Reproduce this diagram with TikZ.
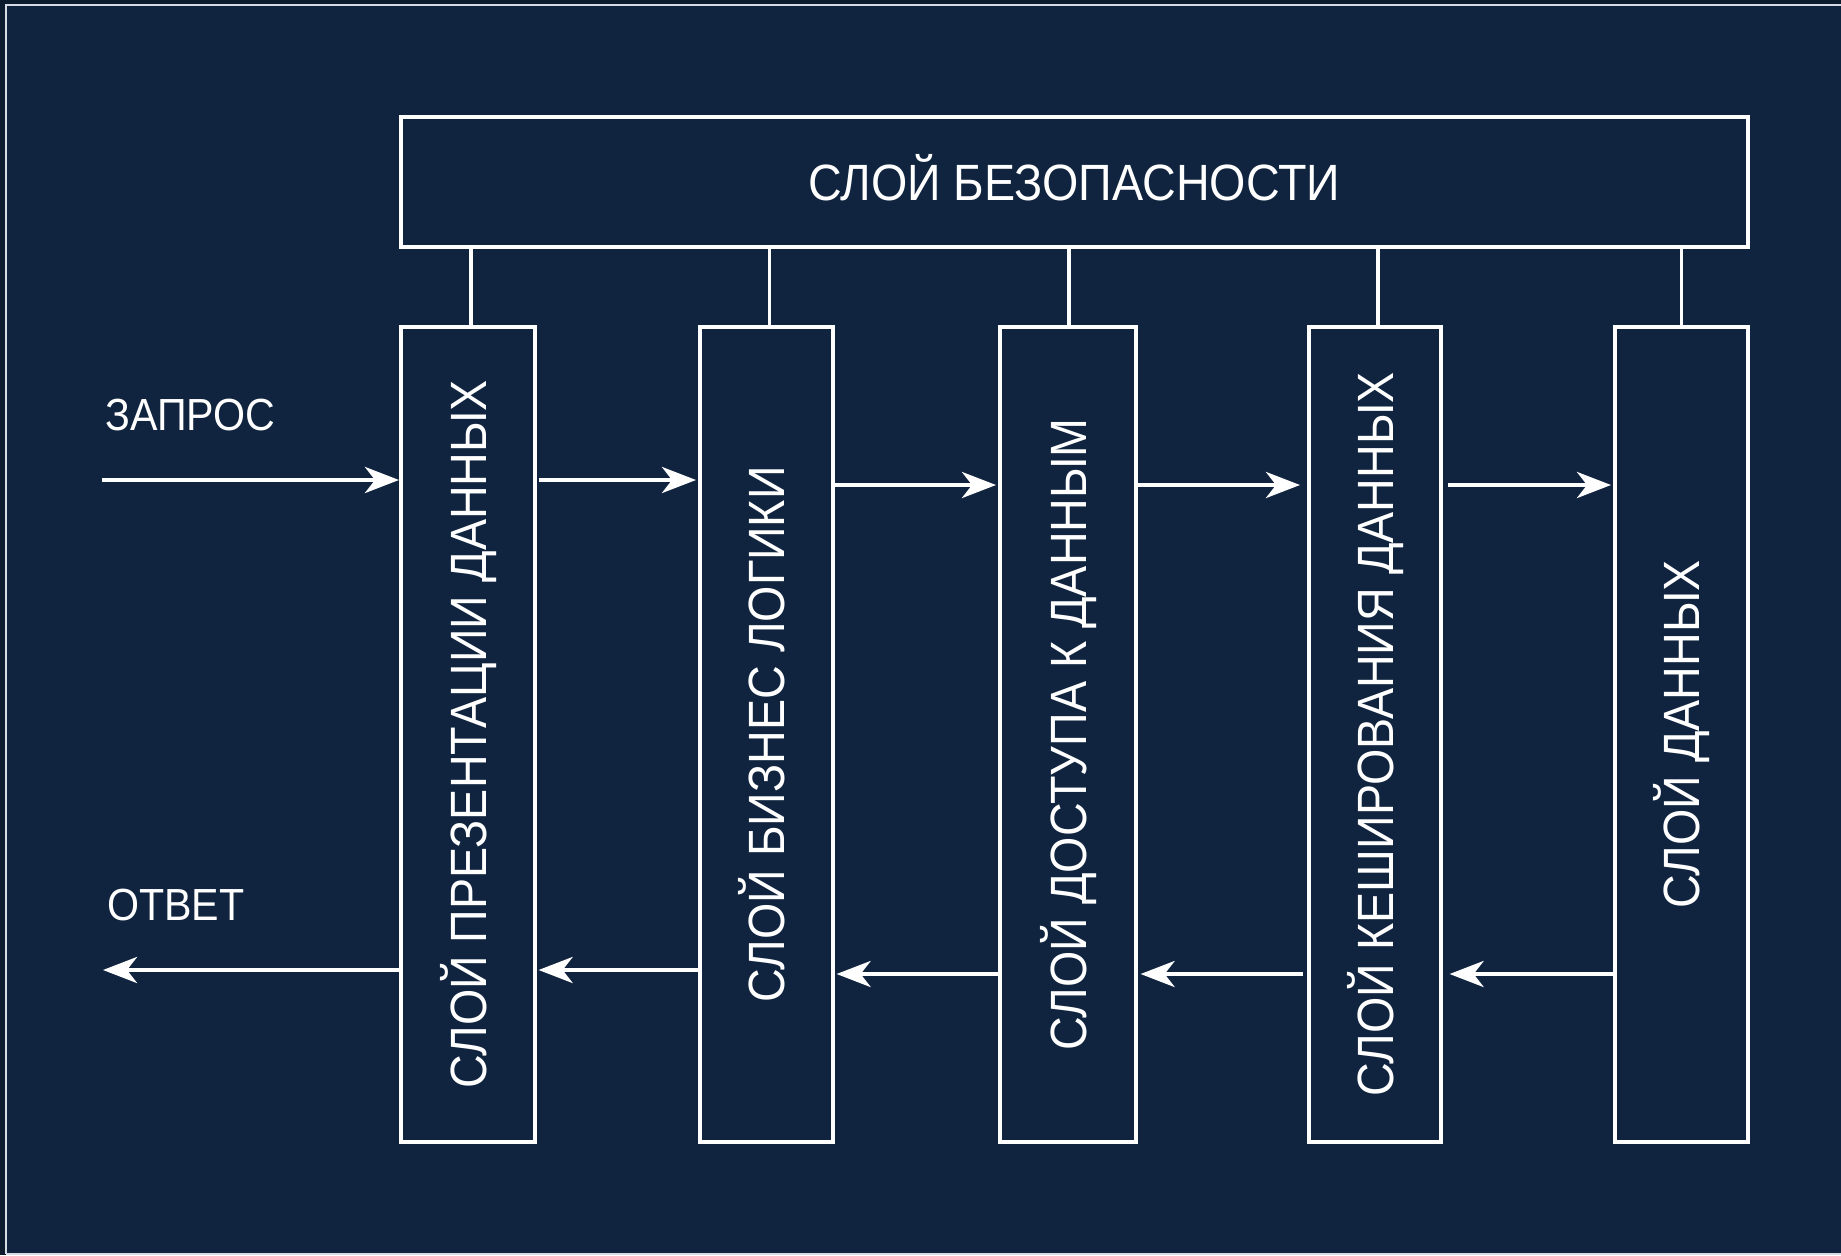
\documentclass[tikz,border=0pt]{standalone}
\usepackage{fontspec}
\setmainfont{Liberation Sans}[FakeStretch=0.915]
\usetikzlibrary{arrows.meta}
\definecolor{bgc}{RGB}{16,36,63}
\definecolor{outerc}{RGB}{13,27,46}
\definecolor{framec}{RGB}{214,220,228}
\begin{document}
\begin{tikzpicture}[x=1pt,y=-1pt,
  layerbox/.style={draw=white, line width=3.6pt, inner sep=0pt, anchor=north west},
  boxtext/.style={text=white, inner sep=0pt, text height=37pt, text depth=0pt,
    font=\fontsize{51}{60}\selectfont},
  sidetext/.style={text=white, inner sep=0pt, text height=32pt, text depth=0pt,
    anchor=south west, font=\fontsize{45}{54}\selectfont},
  flow/.style={white, line width=4.3pt, -{Stealth[length=34pt,width=26pt,inset=10pt]}},
  link/.style={white, line width=3.6pt}]
\useasboundingbox (0,0) rectangle (1841,1255);
\fill[outerc] (0,0) rectangle (1841,1255);
\fill[bgc] (6,5) rectangle (1850,1254);
\draw[framec, line width=2pt] (6,1254) -- (6,5) -- (1850,5);
\draw[framec, line width=2pt] (6,1254) -- (1850,1254);

% security layer
\node[layerbox, minimum width=1347pt, minimum height=130pt] (sec) at (399,115) {};
\node[boxtext] (sect) at (sec.center) {СЛОЙ БЕЗОПАСНОСТИ};

% vertical layers
\node[layerbox, minimum width=134pt, minimum height=815pt] (b1) at (399,325) {};
\node[layerbox, minimum width=133pt, minimum height=815pt] (b2) at (698,325) {};
\node[layerbox, minimum width=136pt, minimum height=815pt] (b3) at (998,325) {};
\node[layerbox, minimum width=132pt, minimum height=815pt] (b4) at (1307,325) {};
\node[layerbox, minimum width=133pt, minimum height=815pt] (b5) at (1613,325) {};

\node[boxtext, rotate=90] (t1) at (b1.center) {СЛОЙ ПРЕЗЕНТАЦИИ ДАННЫХ};
\node[boxtext, rotate=90] (t2) at (b2.center) {СЛОЙ БИЗНЕС ЛОГИКИ};
\node[boxtext, rotate=90] (t3) at (b3.center) {СЛОЙ ДОСТУПА К ДАННЫМ};
\node[boxtext, rotate=90] (t4) at (b4.center) {СЛОЙ КЕШИРОВАНИЯ ДАННЫХ};
\node[boxtext, rotate=90] (t5) at (b5.center) {СЛОЙ ДАННЫХ};

% links to security layer
\draw[link] ([xshift=3pt]b1.north) -- ([xshift=3pt]b1.north |- sec.south);
\draw[link] ([xshift=3pt]b2.north) -- ([xshift=3pt]b2.north |- sec.south);
\draw[link] ([xshift=1pt]b3.north) -- ([xshift=1pt]b3.north |- sec.south);
\draw[link] ([xshift=3pt]b4.north) -- ([xshift=3pt]b4.north |- sec.south);
\draw[link] ([xshift=0pt]b5.north) -- ([xshift=0pt]b5.north |- sec.south);

% labels
\node[sidetext] (req) at (105,431) {ЗАПРОС};
\node[sidetext] (resp) at (107,921) {ОТВЕТ};

% forward flow
\coordinate (rin) at (102,480);
\coordinate (fwa) at (0,480);
\coordinate (fwb) at (0,485);
\draw[flow] (rin) -- (rin -| b1.west);
\draw[flow] ([xshift=2pt]b1.east |- fwa) -- ([xshift=-2pt]b2.west |- fwa);
\draw[flow] (b2.east |- fwb) -- ([xshift=-2pt]b3.west |- fwb);
\draw[flow] (b3.east |- fwb) -- ([xshift=-7pt]b4.west |- fwb);
\draw[flow] ([xshift=5pt]b4.east |- fwb) -- ([xshift=-2pt]b5.west |- fwb);

% backward flow
\coordinate (bka) at (0,970);
\coordinate (bkb) at (0,974);
\coordinate (rout) at (103,970);
\draw[flow] (b1.west |- bka) -- (rout);
\draw[flow] (b2.west |- bka) -- ([xshift=2pt]b1.east |- bka);
\draw[flow] (b3.west |- bkb) -- ([xshift=2pt]b2.east |- bkb);
\draw[flow] ([xshift=-4pt]b4.west |- bkb) -- ([xshift=3pt]b3.east |- bkb);
\draw[flow] (b5.west |- bkb) -- ([xshift=7pt]b4.east |- bkb);
\end{tikzpicture}
\end{document}
